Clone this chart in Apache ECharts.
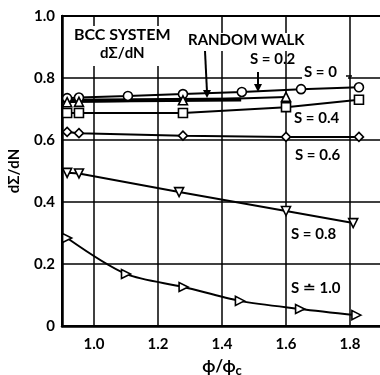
<!DOCTYPE html>
<html>
<head>
<meta charset="utf-8">
<script src="https://cdn.jsdelivr.net/npm/echarts@6/dist/echarts.min.js"></script>
<style>
  html, body { margin: 0; padding: 0; background: #fff; }
  #chart { width: 380px; height: 375px; }
</style>
</head>
<body>
<div id="chart"></div>
<script>
// x = phi/phi_c, y = dSigma/dN
var s0  = [[0.916,0.735],[0.953,0.737],[1.106,0.742],[1.278,0.748],[1.462,0.755],[1.647,0.764],[1.828,0.770]];
var s02 = [[0.916,0.722],[0.953,0.723],[1.278,0.728],[1.600,0.739]];
var s04 = [[0.916,0.687],[0.953,0.687],[1.278,0.687],[1.600,0.706],[1.828,0.730]];
var s06 = [[0.916,0.626],[0.953,0.622],[1.278,0.614],[1.600,0.610],[1.828,0.610]];
var s08 = [[0.916,0.494],[0.953,0.492],[1.266,0.432],[1.600,0.371],[1.810,0.332]];
var s10 = [[0.916,0.284],[1.100,0.168],[1.280,0.126],[1.456,0.081],[1.644,0.055],[1.820,0.035]];
var randomWalk = [[0.900,0.727],[1.460,0.731]];
var xTicks = [1.0, 1.2, 1.4, 1.6, 1.8];

var FONT = 'Lato';
var myChart = echarts.init(document.getElementById('chart'));

function ser(name, data, symbol, rotate, smooth) {
    return {
        name: name,
        type: 'line',
        data: data,
        symbol: symbol,
        symbolSize: 9,
        symbolRotate: rotate,
        smooth: smooth || false,
        lineStyle: { color: '#000', width: 2 },
        itemStyle: { color: '#fff', borderColor: '#000', borderWidth: 1.6 },
        z: 5,
        animation: false
    };
}

function label(text, x, y, size) {
    return {
        type: 'text', left: x, top: y, z: 20,
        style: { text: text, fill: '#000', font: 'bold ' + (size || 15) + 'px ' + FONT }
    };
}

var option = {
    backgroundColor: '#fff',
    animation: false,
    grid: { left: 62, top: 16, width: 320, height: 310, outerBoundsMode: 'none', containLabel: false,
            show: true, borderColor: '#000', borderWidth: 2 },
    xAxis: {
        type: 'value', min: 0.9, max: 1.9,
        name: '{a|ϕ/ϕ}{b|c}', nameLocation: 'middle', nameGap: 30,
        nameTextStyle: { rich: {
            a: { fontFamily: FONT, fontWeight: 'bold', fontSize: 17, color: '#000' },
            b: { fontFamily: FONT, fontWeight: 'bold', fontSize: 13, color: '#000', padding: [8, 0, 0, 0] }
        } },
        axisLine: { lineStyle: { color: '#000', width: 2.5 } },
        axisTick: { show: false, customValues: xTicks },
        axisLabel: { customValues: xTicks, color: '#000', fontFamily: FONT, fontWeight: 'bold', fontSize: 15, margin: 11,
                     formatter: function (v) { return v.toFixed(1); } },
        splitLine: { show: true, lineStyle: { color: '#000', width: 1.5 } }
    },
    yAxis: {
        type: 'value', min: 0, max: 1.0, interval: 0.2,
        name: 'dΣ/dN', nameLocation: 'middle', nameGap: 40,
        nameTextStyle: { fontFamily: FONT, fontWeight: 'bold', fontSize: 15, color: '#000' },
        axisLine: { show: true, lineStyle: { color: '#000', width: 2.5 } },
        axisTick: { show: false },
        axisLabel: { color: '#000', fontFamily: FONT, fontWeight: 'bold', fontSize: 15, margin: 7,
                     formatter: function (v) { return v === 0 ? '0' : v.toFixed(1); } },
        splitLine: { show: true, lineStyle: { color: '#000', width: 1.5 } }
    },
    series: [
        {
            name: 'random walk', type: 'line', data: randomWalk, symbol: 'none',
            lineStyle: { color: '#000', width: 4 }, z: 4, animation: false
        },
        ser('S=0', s0, 'circle', 0),
        ser('S=0.2', s02, 'triangle', 0),
        ser('S=0.4', s04, 'rect', 0),
        ser('S=0.6', s06, 'diamond', 0),
        ser('S=0.8', s08, 'triangle', 180),
        ser('S=1.0', s10, 'triangle', -90, 0.3)
    ],
    graphic: [
        { type: 'rect', left: 72, top: 26, shape: { width: 98, height: 40 }, style: { fill: '#fff' }, z: 10 },
        label('BCC SYSTEM', 74, 27, 16),
        label('dΣ/dN', 100, 46, 15),
        { type: 'rect', left: 186, top: 33, shape: { width: 118, height: 18 }, style: { fill: '#fff' }, z: 10 },
        label('RANDOM WALK', 188, 33, 15),
        label('S = 0.2', 250, 52),
        { type: 'rect', left: 302, top: 66, shape: { width: 46, height: 17 }, style: { fill: '#fff' }, z: 10 },
        label('S = 0', 304, 65),
        label('S = 0.4', 294, 111),
        label('S = 0.6', 295, 148),
        label('S = 0.8', 291, 227),
        label('S ≐ 1.0', 291, 281),
        { type: 'polyline', shape: { points: [[205, 51], [207, 92]] }, style: { stroke: '#000', lineWidth: 2 }, z: 11 },
        { type: 'polygon', shape: { points: [[203, 90], [211, 90], [207, 98]] }, style: { fill: '#000' }, z: 11 },
        { type: 'polyline', shape: { points: [[258, 72], [258, 86]] }, style: { stroke: '#000', lineWidth: 2 }, z: 11 },
        { type: 'polygon', shape: { points: [[254, 84], [262, 84], [258, 92]] }, style: { fill: '#000' }, z: 11 },
        { type: 'polyline', shape: { points: [[346, 76], [352, 76]] }, style: { stroke: '#000', lineWidth: 1.5 }, z: 11 }
    ]
};
myChart.setOption(option);
</script>
</body>
</html>
